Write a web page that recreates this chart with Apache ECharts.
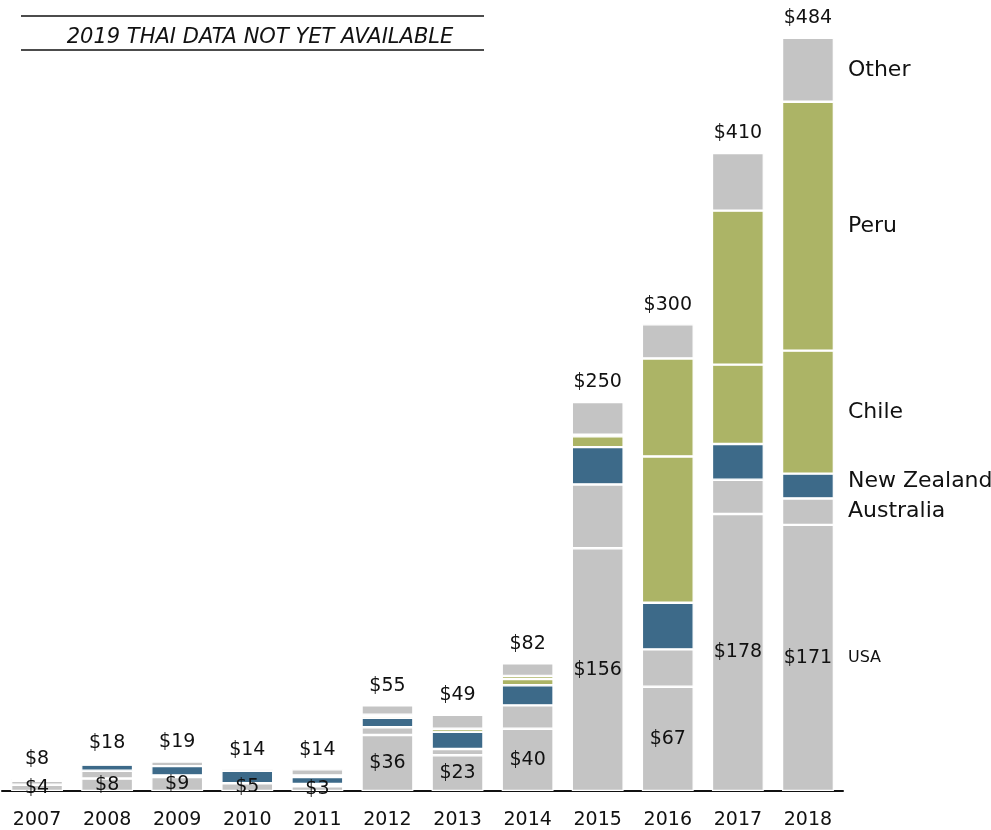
<!DOCTYPE html>
<html>
<head>
<meta charset="utf-8">
<script src="https://cdn.jsdelivr.net/npm/echarts@6/dist/echarts.min.js"></script>
<style>
  html, body { margin: 0; padding: 0; background: #fff; }
  #main { width: 991px; height: 830px; }
</style>
</head>
<body>
<div id="main"></div>
<script>
var years = ['2007', '2008', '2009', '2010', '2011', '2012', '2013', '2014', '2015', '2016', '2017', '2018'];
var usa = [4, 8, 9, 5, 3, 36, 23, 40, 156, 67, 178, 171];
var australia = [2.5, 5, 1, 0, 1.5, 5, 4, 15, 41, 24, 22, 17];
var newZealand = [1.5, 4, 6, 8, 4.5, 6, 11, 13, 24, 30, 23, 16];
var chile = [0, 0, 0, 0, 1, 1, 2, 4, 7, 94, 51, 79];
var peru = [0, 0, 0, 0, 0, 1, 0, 2, 1, 63, 99, 160];
var other = [0, 1, 3, 1, 4, 6, 9, 8, 21, 22, 37, 41];
var totals = [8, 18, 19, 14, 14, 55, 49, 82, 250, 300, 410, 484];

var GRAY = '#c4c4c4', BLUE = '#3d6a89', GREEN = '#acb466';
var FONT = 'DejaVu Sans';

var segs = [
  { name: 'USA', data: usa, color: GRAY },
  { name: 'Australia', data: australia, color: GRAY },
  { name: 'New Zealand', data: newZealand, color: BLUE },
  { name: 'Chile', data: chile, color: GREEN },
  { name: 'Peru', data: peru, color: GREEN },
  { name: 'Other', data: other, color: GRAY }
];

var series = segs.map(function (s, i) {
  return {
    name: s.name,
    type: 'bar',
    stack: 'total',
    barCategoryGap: '26%',
    data: s.data,
    itemStyle: { color: s.color, borderColor: '#fff', borderWidth: 1.2 },
    label: i === 0 ? {
      show: true, position: 'inside', color: '#111', fontFamily: FONT, fontSize: 19,
      formatter: function (p) { return '$' + p.value; }
    } : { show: false },
    emphasis: { disabled: true },
    z: 2
  };
});

// total labels above each bar
series.push({
  type: 'scatter',
  data: totals,
  symbolSize: 0,
  itemStyle: { opacity: 1 },
  label: {
    show: true, position: 'top', distance: 10, color: '#111', fontFamily: FONT, fontSize: 19,
    formatter: function (p) { return '$' + p.value; }
  },
  z: 3
});

// series names to the right of the last bar, at each segment's midpoint
var last = years.length - 1, cum = 0, nameData = [];
segs.forEach(function (s) {
  var v = s.data[last];
  nameData.push({
    value: [years[last], cum + v / 2],
    name: s.name,
    label: {
      fontSize: s.name === 'USA' ? 16 : 22,
      offset: s.name === 'New Zealand' ? [0, -5] : [0, 0]
    }
  });
  cum += v;
});
series.push({
  type: 'scatter',
  data: nameData,
  symbolSize: 0,
  itemStyle: { opacity: 1 },
  label: {
    show: true, position: 'right', distance: 40, color: '#111', fontFamily: FONT,
    formatter: function (p) { return p.name; }
  },
  z: 3
});

var chart = echarts.init(document.getElementById('main'));
chart.setOption({
  animation: false,
  title: {
    text: '2019 THAI DATA NOT YET AVAILABLE',
    left: 255, top: 22, textAlign: 'center',
    textStyle: { fontFamily: FONT, fontStyle: 'italic', fontWeight: 'normal', fontSize: 21, color: '#111' }
  },
  graphic: [
    { type: 'line', shape: { x1: 21, y1: 16, x2: 484, y2: 16 }, style: { stroke: '#111', lineWidth: 1.5 } },
    { type: 'line', shape: { x1: 21, y1: 50, x2: 484, y2: 50 }, style: { stroke: '#111', lineWidth: 1.5 } }
  ],
  grid: { left: 2, right: 148, top: 13, bottom: 39 },
  xAxis: {
    type: 'category',
    data: years,
    axisLine: { lineStyle: { color: '#111', width: 2 } },
    axisTick: { show: false },
    axisLabel: { color: '#111', fontFamily: FONT, fontSize: 19, margin: 20 }
  },
  yAxis: {
    type: 'value', min: 0, max: 500,
    show: false,
    splitLine: { show: false }
  },
  series: series
});
</script>
</body>
</html>
